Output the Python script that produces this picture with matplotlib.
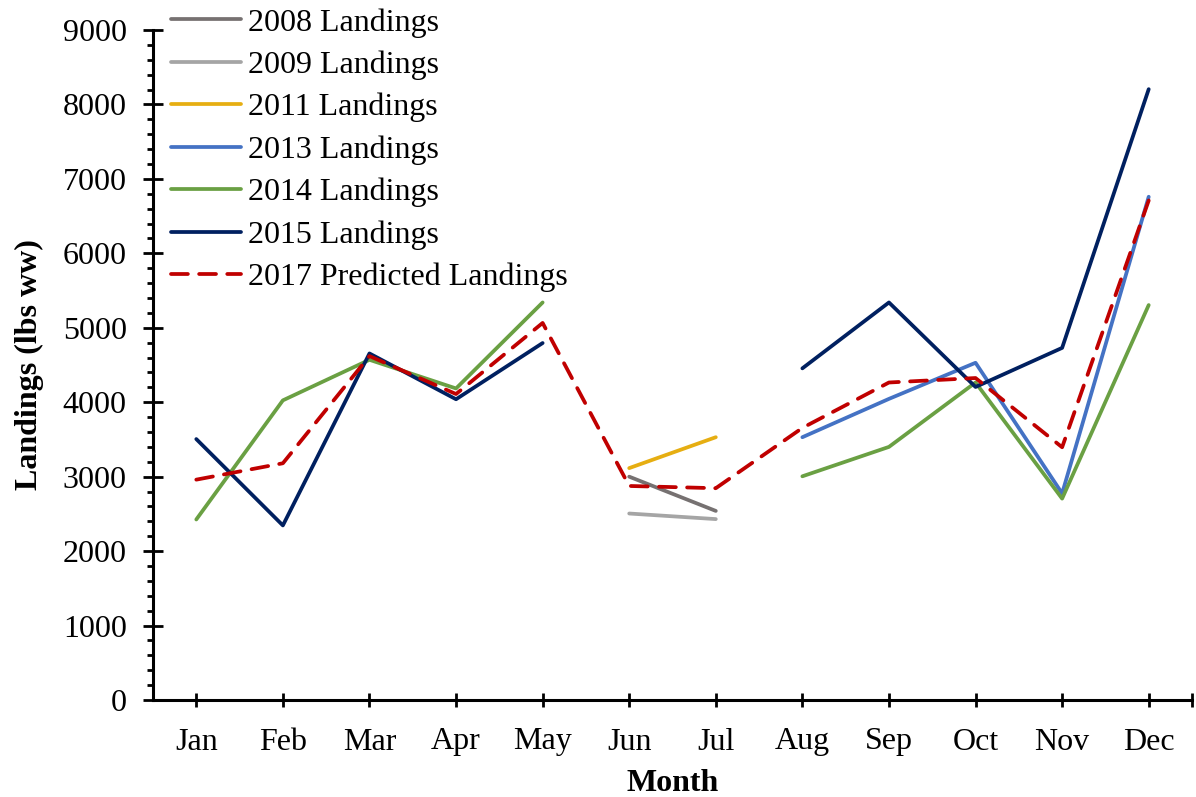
import matplotlib
matplotlib.use("Agg")
import matplotlib.pyplot as plt
import numpy as np
from matplotlib.ticker import MultipleLocator

plt.rcParams["font.family"] = ["Liberation Serif", "DejaVu Serif"]

months = ["Jan", "Feb", "Mar", "Apr", "May", "Jun",
          "Jul", "Aug", "Sep", "Oct", "Nov", "Dec"]
nan = np.nan

# monthly landings (lbs ww), gaps where no data
landings_2008 = [nan, nan, nan, nan, nan, 3000, 2540, nan, nan, nan, nan, nan]
landings_2009 = [nan, nan, nan, nan, nan, 2505, 2430, nan, nan, nan, nan, nan]
landings_2011 = [nan, nan, nan, nan, nan, 3115, 3530, nan, nan, nan, nan, nan]
landings_2013 = [nan, nan, nan, nan, nan, nan, nan, 3530, 4045, 4530, 2775, 6760]
landings_2014 = [2425, 4025, 4570, 4185, 5340, nan, nan, 3005, 3400, 4265, 2705, 5305]
landings_2015 = [3505, 2345, 4655, 4040, 4795, nan, nan, 4455, 5340, 4205, 4730, 8205]
predicted_2017 = [2960, 3180, 4620, 4110, 5065, 2875, 2845, 3655, 4265, 4325, 3395, 6710]

series = [
    ("2008 Landings", landings_2008, "#767171", "-"),
    ("2009 Landings", landings_2009, "#A5A5A5", "-"),
    ("2011 Landings", landings_2011, "#E6AE12", "-"),
    ("2013 Landings", landings_2013, "#4472C4", "-"),
    ("2014 Landings", landings_2014, "#6AA043", "-"),
    ("2015 Landings", landings_2015, "#002060", "-"),
    ("2017 Predicted Landings", predicted_2017, "#C00000", "--"),
]

W, H = 1196, 797
fs = 23
fig = plt.figure(figsize=(W / 100, H / 100), dpi=100)
ax = fig.add_axes([153 / W, 97 / H, (1192 - 153) / W, 670 / H])

x = np.arange(len(months))
for label, vals, color, ls in series:
    kw = dict(dashes=(4.5, 3.0)) if ls == "--" else {}
    ax.plot(x, vals, color=color, linestyle=ls, linewidth=2.7, label=label,
            solid_capstyle="round", dash_capstyle="round", **kw)

ax.set_xlim(-0.5, 11.5)
ax.set_ylim(0, 9000)
ax.set_xticks(list(x) + [11.5])
ax.set_xticklabels(months + [""], fontsize=fs)
ax.yaxis.set_major_locator(MultipleLocator(1000))
ax.yaxis.set_minor_locator(MultipleLocator(200))
ax.tick_params(axis="y", which="major", direction="inout", length=13.7, width=2.0,
               labelsize=fs, pad=12)
ax.tick_params(axis="y", which="minor", direction="out", length=4.2, width=2.0)
ax.tick_params(axis="x", which="major", direction="inout", length=9.6, width=2.0,
               pad=15)

for s in ("top", "right"):
    ax.spines[s].set_visible(False)
for s in ("left", "bottom"):
    ax.spines[s].set_linewidth(2.2)

ax.set_xlabel("Month", fontsize=fs, fontweight="bold", labelpad=9)
ax.set_ylabel("Landings (lbs ww)", fontsize=fs, fontweight="bold")
ax.yaxis.set_label_coords(-0.105, 0.5)

fig.legend(loc="upper left", bbox_to_anchor=(171 / W, 1 - 8 / H),
           frameon=False, fontsize=fs, borderpad=0, borderaxespad=0,
           handlelength=2.2, handletextpad=0.2, labelspacing=0.405)

fig.savefig("out.png", dpi=100)
